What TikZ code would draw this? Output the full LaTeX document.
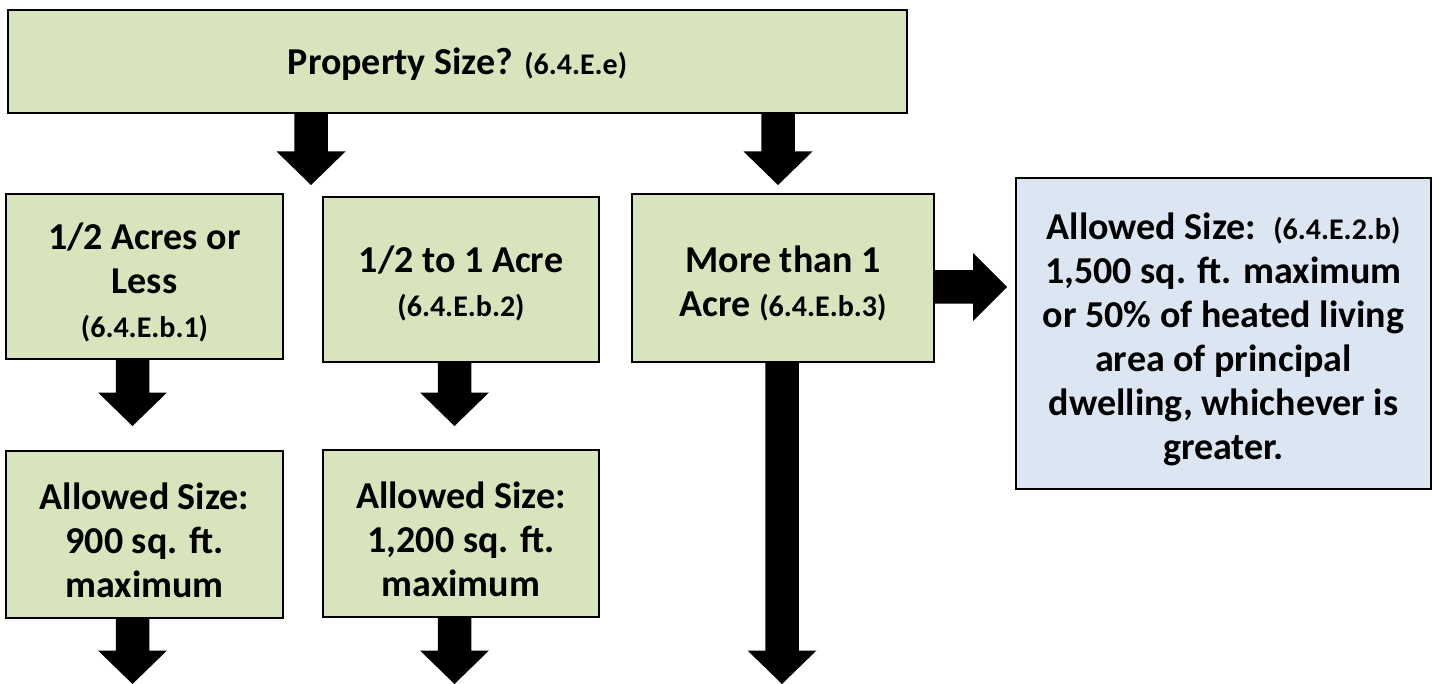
\documentclass[tikz,border=0pt]{standalone}
\usepackage{fontspec}
\setmainfont{Carlito}
\usetikzlibrary{calc}
\definecolor{boxgreen}{RGB}{216,228,188}
\definecolor{boxblue}{RGB}{220,230,242}
\newcommand\mainsz{\fontsize{19}{22}\selectfont}
\newcommand\smallsz{\fontsize{15}{20.5}\selectfont}
\newcommand\topstrut{\rule{0pt}{19pt}}
% vertical block arrow: #1 start, #2 tip
\newcommand\blkdown[2]{%
  \fill[black] ($(#1)+(-16.75,0)$) -- ($(#2)+(-16.75,-33.5)$) -- ($(#2)+(-34.5,-33.5)$) -- (#2)
    -- ($(#2)+(34.5,-33.5)$) -- ($(#2)+(16.75,-33.5)$) -- ($(#1)+(16.75,0)$) -- cycle;}
\newcommand\blkright[2]{%
  \fill[black] ($(#1)+(0,-16.75)$) -- ($(#2)+(-34,-16.75)$) -- ($(#2)+(-34,-34)$) -- (#2)
    -- ($(#2)+(-34,34)$) -- ($(#2)+(-34,16.75)$) -- ($(#1)+(0,16.75)$) -- cycle;}
\tikzset{
  gbox/.style={draw=black, line width=1pt, fill=boxgreen, align=center, inner sep=0pt, font=\bfseries\mainsz},
  bbox/.style={gbox, fill=boxblue}
}
\begin{document}
\begin{tikzpicture}[x=0.5pt,y=-0.5pt]
\useasboundingbox (0,0) rectangle (1440,684);
\node[gbox, minimum width=449.5pt, minimum height=51.5pt] (top) at (457.5,61.5)
  {\rule{0pt}{16pt}Property Size? {\smallsz(6.4.E.e)}};
\node[gbox, minimum width=138.5pt, minimum height=82.5pt] (L1) at (144.5,276.5)
  {\topstrut1/2 Acres or\\Less\\{\smallsz(6.4.E.b.1)}};
\node[gbox, minimum width=138pt, minimum height=82.5pt] (L2) at (461,279.5)
  {\rule{0pt}{17pt}1/2 to 1 Acre\\{\smallsz(6.4.E.b.2)}};
\node[gbox, minimum width=151pt, minimum height=84pt] (L3) at (783,278)
  {\topstrut More than 1\\Acre {\smallsz(6.4.E.b.3)}};
\node[gbox, minimum width=138.5pt, minimum height=83.5pt] (A1) at (144.5,534.5)
  {\topstrut Allowed Size:\\900 sq. ft.\\maximum};
\node[gbox, minimum width=138pt, minimum height=83.5pt] (A2) at (461,533.5)
  {\topstrut Allowed Size:\\1,200 sq. ft.\\maximum};
\node[bbox, minimum width=207.5pt, minimum height=155.5pt] (B) at (1223.5,333.5)
  {\topstrut Allowed Size:~~{\smallsz(6.4.E.2.b)}\\1,500 sq. ft. maximum\\or 50\% of heated living\\area of principal\\dwelling, whichever is\\greater.};
% arrow tips and starts
\coordinate (t1) at (311,185);
\coordinate (t2) at (778,185);
\coordinate (t3) at (132.5,426);
\coordinate (t4) at (454.5,426);
\coordinate (t5) at (782,684);
\coordinate (t6) at (132.5,684);
\coordinate (t7) at (454.5,684);
\coordinate (t8) at (1007,287);
\coordinate (s1) at (top.south -| t1);
\coordinate (s2) at (top.south -| t2);
\coordinate (s3) at (L1.south -| t3);
\coordinate (s4) at (L2.south -| t4);
\coordinate (s5) at (L3.south -| t5);
\coordinate (s6) at (A1.south -| t6);
\coordinate (s7) at (A2.south -| t7);
\coordinate (s8) at (L3.east |- t8);
\blkdown{s1}{t1}
\blkdown{s2}{t2}
\blkdown{s3}{t3}
\blkdown{s4}{t4}
\blkdown{s5}{t5}
\blkdown{s6}{t6}
\blkdown{s7}{t7}
\blkright{s8}{t8}
\end{tikzpicture}
\end{document}
